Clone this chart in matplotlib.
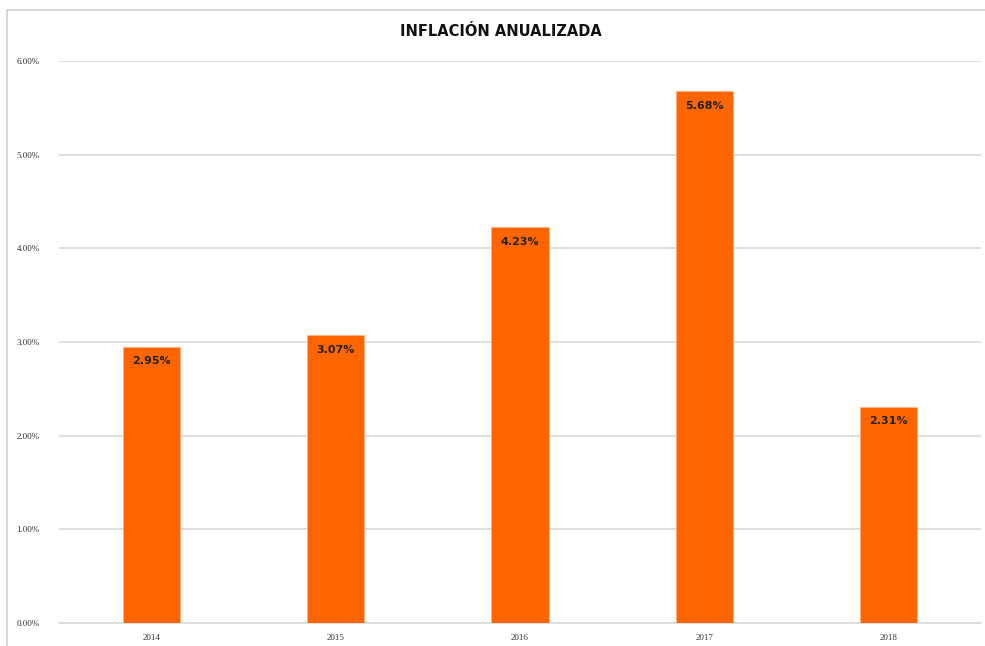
import matplotlib.pyplot as plt
from matplotlib.patches import Rectangle
from matplotlib.ticker import FuncFormatter
import numpy as np

years = ['2014', '2015', '2016', '2017', '2018']
inflation = [2.95, 3.07, 4.23, 5.68, 2.31]
value_labels = ['2.95%', '3.07%', '4.23%', '5.68%', '2.31%']
title = 'INFLACIÓN ANUALIZADA'

plt.rcParams['font.family'] = ['Liberation Sans Narrow', 'DejaVu Sans']

fig = plt.figure(figsize=(9.85, 6.46), dpi=100)
# chart frame like the spreadsheet chart border
fig.patches.append(Rectangle((7 / 985, -0.1), 1.2, 1 - 10 / 646 + 0.1,
                             transform=fig.transFigure, fill=False,
                             edgecolor='#d0d0d0', linewidth=1.2))

ax = fig.add_axes([59 / 985, 1 - 623 / 646, 922 / 985, 562 / 646])
ind = np.arange(len(years))
bars = ax.bar(ind, inflation, 0.31, color='#ff6600', edgecolor='#ffb080',
              linewidth=0.6, zorder=3)

ax.set_xlim(-0.5, len(years) - 0.5)
ax.set_ylim(0, 6)
ax.set_yticks(np.arange(0, 7, 1))
ax.yaxis.set_major_formatter(FuncFormatter(lambda v, p: '{0:.2f}%'.format(v)))
ax.set_xticks(ind)
ax.set_xticklabels(years)
ax.tick_params(axis='both', length=0, labelsize=6.5, labelcolor='#333333',
               labelfontfamily='Liberation Serif')
ax.tick_params(axis='y', pad=14)
ax.tick_params(axis='x', pad=8)

ax.grid(axis='y', color='#d9d9d9', linewidth=1.2, zorder=0)
for s in ['top', 'right', 'left']:
    ax.spines[s].set_visible(False)
ax.spines['bottom'].set_color('#d9d9d9')
ax.spines['bottom'].set_linewidth(1.2)

for rect, lab in zip(bars, value_labels):
    ax.annotate(lab, (rect.get_x() + rect.get_width() / 2, rect.get_height()),
                xytext=(0, -7), textcoords='offset points',
                ha='center', va='top', fontsize=8, fontweight='bold',
                color='#222222', zorder=4)

fig.text(501 / 985, 1 - 32 / 646, title, ha='center', va='center',
         fontsize=10.5, fontweight='bold', color='#111111')

fig.savefig('out.png', dpi=100)
